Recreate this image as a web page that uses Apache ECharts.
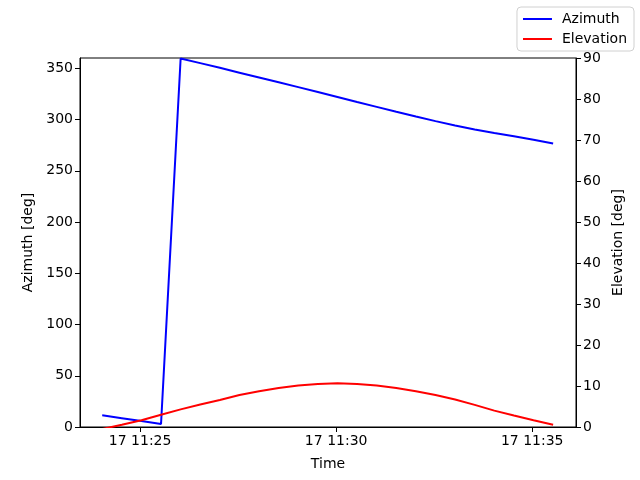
<!DOCTYPE html>
<html>
<head>
<meta charset="utf-8">
<script src="https://cdn.jsdelivr.net/npm/echarts@6/dist/echarts.min.js"></script>
<style>
  html, body { margin: 0; padding: 0; background: #fff; }
  #main { width: 640px; height: 480px; }
</style>
</head>
<body>
<div id="main"></div>
<script>
// sample times (17th, hh:mm:ss)
const times = [
  '11:24:02', '11:24:32', '11:25:02', '11:25:32', '11:26:02', '11:26:32',
  '11:27:02', '11:27:32', '11:28:02', '11:28:32', '11:29:02', '11:29:32',
  '11:30:02', '11:30:32', '11:31:02', '11:31:32', '11:32:02', '11:32:32',
  '11:33:02', '11:33:32', '11:34:02', '11:34:32', '11:35:02', '11:35:32'
];
const azimuth = [
  11.4, 8.6, 5.8, 2.9, 359.5, 355.0,
  350.4, 345.7, 341.0, 336.3, 331.6, 326.8,
  322.0, 317.1, 312.3, 307.5, 302.9, 298.4,
  294.2, 290.3, 286.8, 283.6, 280.2, 276.6
];
const elevation = [
  -0.5, 0.55, 1.65, 3.0, 4.3, 5.5,
  6.6, 7.8, 8.7, 9.5, 10.1, 10.5,
  10.66, 10.5, 10.1, 9.5, 8.7, 7.8,
  6.7, 5.4, 4.0, 2.8, 1.65, 0.55
];
const xTicks = ['11:25:00', '11:30:00', '11:35:00'];
const azTicks = [0, 50, 100, 150, 200, 250, 300, 350];

function toMs(s) {
  const p = s.split(':').map(Number);
  return Date.UTC(2024, 0, 17, p[0], p[1], p[2]);
}

function fmtTime(v) {
  const d = new Date(v);
  const hh = String(d.getUTCHours()).padStart(2, '0');
  const mm = String(d.getUTCMinutes()).padStart(2, '0');
  return d.getUTCDate() + ' ' + hh + ':' + mm;
}

const chart = echarts.init(document.getElementById('main'));
const font = 'DejaVu Sans';
const tickVals = xTicks.map(toMs);

let option = {
  animation: false,
  textStyle: { fontFamily: font },
  grid: {
    left: 80, right: 64, top: 58, bottom: 53,
    show: true, borderColor: '#000', borderWidth: 1
  },
  legend: {
    orient: 'vertical',
    right: 6, top: 7,
    padding: [5, 7, 5, 6],
    itemGap: 6,
    itemWidth: 29, itemHeight: 2,
    icon: 'rect',
    borderColor: '#d0d0d0', borderWidth: 1, borderRadius: 4,
    textStyle: { fontSize: 14, color: '#000', fontFamily: font, padding: [0, 0, 0, 5] },
    data: ['Azimuth', 'Elevation']
  },
  xAxis: {
    type: 'value',
    min: toMs('11:23:28'),
    max: toMs('11:36:07'),
    name: 'Time',
    nameLocation: 'middle',
    nameGap: 30,
    nameTextStyle: { fontSize: 14, color: '#000' },
    axisLine: { lineStyle: { color: '#000' } },
    axisTick: { show: true, length: 5, inside: false, customValues: tickVals, lineStyle: { color: '#000' } },
    axisLabel: { fontSize: 14, color: '#000', margin: 7, customValues: tickVals, formatter: fmtTime },
    splitLine: { show: false }
  },
  yAxis: [
    {
      type: 'value',
      min: 0, max: 360,
      name: 'Azimuth [deg]',
      nameLocation: 'middle',
      nameGap: 44,
      nameTextStyle: { fontSize: 14, color: '#000' },
      axisLine: { show: true, lineStyle: { color: '#000' } },
      axisTick: { show: true, length: 5, customValues: azTicks, lineStyle: { color: '#000' } },
      axisLabel: { fontSize: 14, color: '#000', margin: 7, customValues: azTicks },
      splitLine: { show: false }
    },
    {
      type: 'value',
      min: 0, max: 90, interval: 10,
      position: 'right',
      name: 'Elevation [deg]',
      nameLocation: 'middle',
      nameGap: 34,
      nameTextStyle: { fontSize: 14, color: '#000' },
      axisLine: { show: true, lineStyle: { color: '#000' } },
      axisTick: { show: true, length: 5, lineStyle: { color: '#000' } },
      axisLabel: { fontSize: 14, color: '#000', margin: 7 },
      splitLine: { show: false }
    }
  ],
  series: [
    {
      name: 'Azimuth',
      type: 'line',
      yAxisIndex: 0,
      symbol: 'none',
      color: '#0000ff',
      lineStyle: { width: 2, color: '#0000ff' },
      data: times.map((t, i) => [toMs(t), azimuth[i]])
    },
    {
      name: 'Elevation',
      type: 'line',
      yAxisIndex: 1,
      symbol: 'none',
      color: '#ff0000',
      lineStyle: { width: 2, color: '#ff0000' },
      data: times.map((t, i) => [toMs(t), elevation[i]])
    }
  ]
};
chart.setOption(option);
</script>
</body>
</html>
